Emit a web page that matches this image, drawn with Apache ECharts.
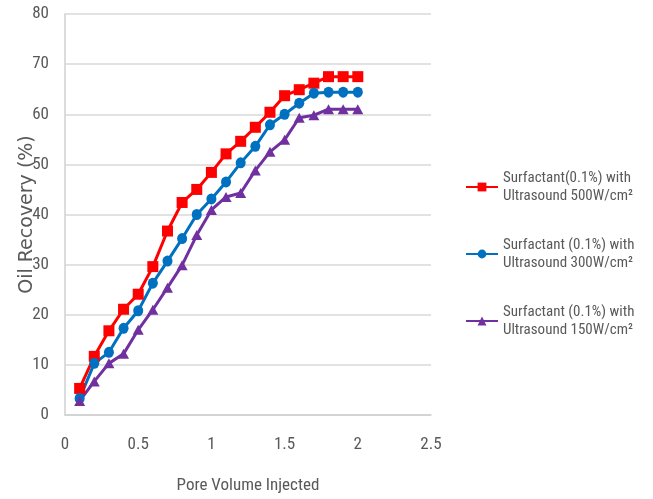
<!DOCTYPE html>
<html><head><meta charset="utf-8">
<script src="https://cdn.jsdelivr.net/npm/echarts@6/dist/echarts.min.js"></script>
<style>html,body{margin:0;padding:0;background:#fff}#c{width:653px;height:499px}</style>
</head><body><div id="c"></div>
<script>
const poreVolume = [0.1,0.2,0.3,0.4,0.5,0.6,0.7,0.8,0.9,1.0,1.1,1.2,1.3,1.4,1.5,1.6,1.7,1.8,1.9,2.0];
const us500 = [5.3,11.7,16.8,21.1,24.1,29.6,36.7,42.4,45.0,48.4,52.1,54.6,57.4,60.4,63.7,64.9,66.2,67.5,67.5,67.5];
const us300 = [3.3,10.3,12.5,17.3,20.8,26.3,30.7,35.2,40.0,43.1,46.5,50.3,53.6,57.9,60.0,62.2,64.2,64.4,64.4,64.4];
const us150 = [2.8,6.7,10.3,12.2,17.0,21.0,25.4,29.9,35.9,40.9,43.5,44.3,48.8,52.5,54.9,59.3,59.8,61.0,61.0,61.0];
const seriesNames = ['Surfactant(0.1%) with\nUltrasound 500W/cm²','Surfactant (0.1%) with\nUltrasound 300W/cm²','Surfactant (0.1%) with\nUltrasound 150W/cm²'];
const xTitle = 'Pore Volume Injected';
const yTitle = 'Oil Recovery (%)';

const font = '"Roboto Condensed", "DejaVu Sans Condensed", sans-serif';
const pair = arr => poreVolume.map((x,i)=>[x,arr[i]]);
const mk = (name, data, color, symbol, size) => ({
  name, type:'line', data: pair(data), symbol, symbolSize:size,
  lineStyle:{color, width:3}, itemStyle:{color}, animation:false
});
const chart = echarts.init(document.getElementById('c'));
chart.setOption({
  backgroundColor:'#fff',
  grid:{left:65,right:222,top:14,bottom:83},
  legend:{
    orient:'vertical', left:460, top:164, itemGap:31, itemWidth:32, itemHeight:11,
    textStyle:{fontFamily:font, fontSize:15, color:'#595959', lineHeight:18},
    data: seriesNames
  },
  xAxis:{
    type:'value', min:0, max:2.5, interval:0.5,
    name:xTitle, nameLocation:'middle', nameGap:62, nameMoveOverlap:false,
    nameTextStyle:{fontFamily:font, fontSize:17, color:'#595959'},
    axisLine:{show:true, lineStyle:{color:'#d0d0d0', width:1.5}},
    axisTick:{show:false},
    axisLabel:{fontFamily:font, fontSize:17, color:'#595959', margin:21},
    splitLine:{show:false}
  },
  yAxis:{
    type:'value', min:0, max:80, interval:10,
    name:yTitle, nameLocation:'middle', nameGap:28, nameMoveOverlap:false,
    nameTextStyle:{fontFamily:'"DejaVu Sans", sans-serif', fontSize:19, color:'#595959'},
    axisLine:{show:true, lineStyle:{color:'#d0d0d0', width:1.5}},
    axisTick:{show:false},
    axisLabel:{fontFamily:font, fontSize:17, color:'#595959', margin:16},
    splitLine:{show:true, lineStyle:{color:'#d9d9d9', width:1.5}}
  },
  series:[
    mk(seriesNames[0], us500, '#ff0000', 'rect', [11,11]),
    mk(seriesNames[1], us300, '#0070c0', 'circle', [10,11]),
    mk(seriesNames[2], us150, '#7030a0', 'triangle', [11,10])
  ]
});
</script></body></html>
